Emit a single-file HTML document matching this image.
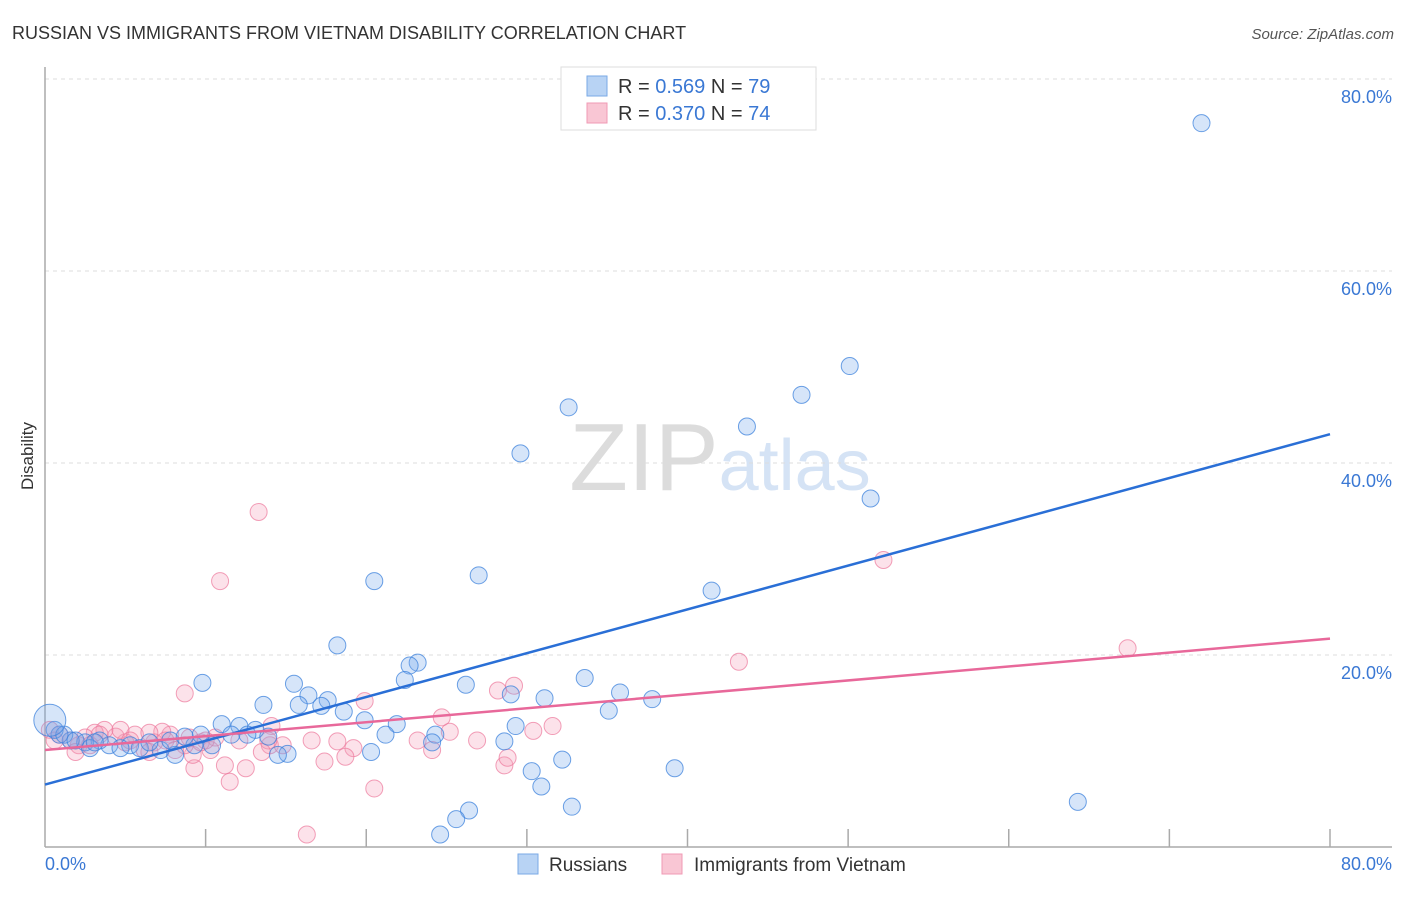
<!DOCTYPE html>
<html><head><meta charset="utf-8"><style>
body{margin:0;background:#fff;font-family:"Liberation Sans",sans-serif}
svg text{font-family:"Liberation Sans",sans-serif}
</style></head><body>
<svg id="chart" width="1406" height="892" viewBox="0 0 1406 892">
<text x="12" y="39" font-size="18" fill="#333">RUSSIAN VS IMMIGRANTS FROM VIETNAM DISABILITY CORRELATION CHART</text>
<text x="1394" y="39" font-size="15" fill="#555" font-style="italic" text-anchor="end">Source: ZipAtlas.com</text>
<text x="720" y="490" font-size="96" fill="#e6e6e6" text-anchor="middle" font-family="Liberation Serif"><tspan fill="#dcdcdc">ZIP</tspan><tspan fill="#d5e3f5" font-family="Liberation Sans" font-size="72">atlas</tspan></text>
<g id="grid"></g>
<g id="axes"></g>
<g id="points"></g>
<g id="trends"></g>
<text transform="translate(33,456) rotate(-90)" font-size="17" fill="#333" text-anchor="middle">Disability</text>
<g>
<rect x="561" y="67" width="255" height="63" fill="#fff" stroke="#ddd"/>
<rect x="587" y="76" width="20" height="20" fill="#b8d3f4" stroke="#7aa9e6"/>
<text x="618" y="93" font-size="20" fill="#333">R = <tspan fill="#3a78d4">0.569</tspan>   N = <tspan fill="#3a78d4">79</tspan></text>
<rect x="587" y="103" width="20" height="20" fill="#f9c6d4" stroke="#f09ab4"/>
<text x="618" y="120" font-size="20" fill="#333">R = <tspan fill="#3a78d4">0.370</tspan>   N = <tspan fill="#3a78d4">74</tspan></text>
</g>
<g>
<rect x="518" y="854" width="20" height="20" fill="#b8d3f4" stroke="#7aa9e6"/>
<text x="549" y="871" font-size="19" fill="#333">Russians</text>
<rect x="662" y="854" width="20" height="20" fill="#f9c6d4" stroke="#f09ab4"/>
<text x="694" y="871" font-size="19" fill="#333">Immigrants from Vietnam</text>
</g>
</svg>
<script>
const NS="http://www.w3.org/2000/svg";
const yTicks=[20,40,60,80];
const yTickLabels=["20.0%","40.0%","60.0%","80.0%"];
const xTicks=[10,20,30,40,50,60,70,80];
const xTickLabels=["0.0%","80.0%"];
const russiansX=[72.0,50.1,47.1,32.6,43.7,29.6,51.4,27.0,20.5,41.5,18.2,23.2,22.7,9.8,33.6,22.4,15.5,26.2,29.0,35.8,16.4,17.6,13.6,31.1,15.8,17.2,37.8,35.1,18.6,19.9,21.9,11.0,29.3,21.2,12.1,24.3,13.1,24.1,20.3,28.6,15.1,14.5,32.2,30.3,39.2,30.9,32.8,64.3,26.4,25.6,24.6,8.1,9.3,10.4,7.2,5.3,4.0,3.4,2.5,1.6,0.9,0.6,2.8,4.7,5.9,6.5,7.8,8.7,9.7,11.6,12.6,13.9,1.2,1.9,3.1,0.3];
const russiansY=[75.4,50.1,47.1,45.8,43.8,41.0,36.3,28.3,27.7,26.7,21.0,19.2,18.9,17.1,17.6,17.4,17.0,16.9,15.9,16.1,15.8,15.3,14.8,15.5,14.8,14.7,15.4,14.2,14.1,13.2,12.8,12.8,12.6,11.7,12.6,11.7,12.2,10.9,9.9,11.0,9.7,9.6,9.1,7.9,8.2,6.3,4.2,4.7,3.8,2.9,1.3,9.6,10.6,10.6,10.1,10.6,10.6,11.1,10.9,11.1,11.7,12.2,10.3,10.3,10.3,10.9,11.1,11.5,11.7,11.7,11.7,11.5,11.7,11.1,10.9,13.2];
const vietnamX=[13.3,10.9,52.2,67.4,43.2,8.7,19.9,29.2,28.2,24.7,31.6,14.1,14.0,20.5,16.3,11.5,12.5,9.3,11.2,9.2,10.3,28.6,28.8,24.1,23.2,25.2,26.9,30.4,19.2,18.7,17.4,16.6,18.2,14.8,13.9,13.5,12.1,10.6,9.7,8.7,7.8,7.3,6.8,6.2,5.6,5.0,4.4,3.7,3.1,2.5,2.1,1.6,0.9,0.3,0.6,1.9,2.8,3.4,4.7,5.3,6.5,7.5,8.1,9.0,10.0,6.5];
const vietnamY=[34.9,27.7,29.9,20.7,19.3,16.0,15.2,16.8,16.3,13.5,12.6,12.6,10.6,6.1,1.3,6.8,8.2,8.2,8.5,9.6,10.1,8.5,9.3,10.1,11.1,12.0,11.1,12.1,10.3,9.4,8.9,11.1,11.0,10.6,11.1,9.9,11.1,11.4,10.9,10.6,11.7,12.0,10.9,10.1,11.7,10.9,11.5,12.2,11.9,11.4,10.6,11.1,11.7,12.2,11.1,9.9,10.6,11.7,12.2,11.1,11.9,11.1,10.1,11.4,11.1,9.9];
const russiansTrend=[6.5,43.0];
const vietnamTrend=[10.1,21.7];
const X=v=>45+v*(1285/80), Y=v=>847-v*9.6;
function mk(tag,attrs,parent){const e=document.createElementNS(NS,tag);for(const k in attrs)e.setAttribute(k,attrs[k]);parent.appendChild(e);return e;}
const grid=document.getElementById('grid'),axes=document.getElementById('axes'),pts=document.getElementById('points'),tr=document.getElementById('trends');
yTicks.forEach((t,i)=>{
 const l=mk('line',{x1:45,x2:1392,y1:Y(t),y2:Y(t),stroke:'#ddd','stroke-dasharray':'4,4'},grid);
 
 
 const tx=mk('text',{x:1392,y:Y(t)+24,'font-size':18,fill:'#3a78d4','text-anchor':'end'},grid);
 tx.textContent=yTickLabels[i];
 
 
});
const gl=mk('line',{x1:45,x2:1392,y1:Y(80)-1,y2:Y(80)-1,stroke:'#fff'},grid);
const ax1=mk('line',{x1:45,x2:45,y1:67,y2:847,stroke:'#aaa','stroke-width':1.5},axes);


const ax2=mk('line',{x1:45,x2:1392,y1:847,y2:847,stroke:'#aaa','stroke-width':1.5},axes);


xTicks.forEach(t=>{
 const l=mk('line',{x1:X(t),x2:X(t),y1:829,y2:847,stroke:'#aaa','stroke-width':1.5},axes);
 
 
});
const x0=mk('text',{x:45,y:870,'font-size':18,fill:'#3a78d4'},axes);x0.textContent=xTickLabels[0];


const x1=mk('text',{x:1392,y:870,'font-size':18,fill:'#3a78d4','text-anchor':'end'},axes);x1.textContent=xTickLabels[1];


function series(xs,ys,fill,stroke,name){
 xs.forEach((x,i)=>{
  const r=(x<0.5&&i===xs.length-1)?16:8.5;
  const c=mk('circle',{cx:X(x),cy:Y(ys[i]),r:r,fill:fill,stroke:stroke,'stroke-width':1},pts);
  
  
 });
}
series(vietnamX,vietnamY,'rgba(245,160,185,0.3)','rgba(236,120,155,0.7)','vietnam-point');
series(russiansX,russiansY,'rgba(120,170,235,0.3)','rgba(60,130,220,0.75)','russians-point');
const t1=mk('line',{x1:X(0),y1:Y(russiansTrend[0]),x2:X(80),y2:Y(russiansTrend[1]),stroke:'#2a6fd6','stroke-width':2.5},tr);


const t2=mk('line',{x1:X(0),y1:Y(vietnamTrend[0]),x2:X(80),y2:Y(vietnamTrend[1]),stroke:'#e8689a','stroke-width':2.5},tr);


</script>
</body></html>
